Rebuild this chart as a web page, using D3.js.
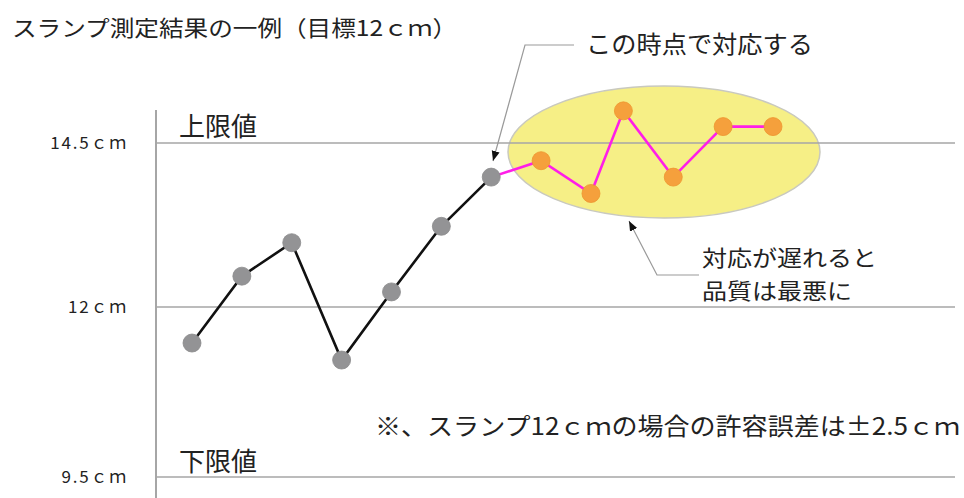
<!DOCTYPE html>
<html>
<head>
<meta charset="utf-8">
<script src="https://cdn.jsdelivr.net/npm/d3@7"></script>
<style>
  body { margin: 0; background: #fff; }
  svg { display: block; }
  text { font-family: "Noto Sans CJK JP", "Noto Sans", sans-serif; fill: #222; }
</style>
</head>
<body>
<script>
var graySample = [1, 2, 3, 4, 5, 6, 7];
var grayValue = [11.47, 12.47, 12.98, 11.22, 12.23, 13.23, 13.98];
var orangeSample = [8, 9, 9.65, 10.65, 11.65, 12.65];
var orangeValue = [14.23, 13.73, 14.99, 13.98, 14.75, 14.75];

var tickValues = [9.5, 12, 14.5];
var tickLabels = ["9.5ｃｍ", "12ｃｍ", "14.5ｃｍ"];
var limitLabels = ["下限値", "上限値"];

var width = 964;
var height = 498;

var svg = d3.select("body")
    .append("svg")
    .attr("width", width)
    .attr("height", height);

var defs = svg.append("defs");
defs.append("marker")
    .attr("id", "arrow")
    .attr("viewBox", "0 0 10 10")
    .attr("refX", 10)
    .attr("refY", 5)
    .attr("markerWidth", 10)
    .attr("markerHeight", 10)
    .attr("markerUnits", "userSpaceOnUse")
    .attr("orient", "auto")
        .append("path")
        .attr("d", "M0,1 L10,5 L0,9 Z")
        .attr("fill", "#111");

var xScale = d3.scaleLinear()
    .domain([1, 12.65])
    .range([192, 773]);

// the reference spacing is a bit uneven, so piecewise
var yScale = d3.scaleLinear()
    .domain([9.5, 12, 14.5])
    .range([477, 307, 143]);

var axisX = 156;
var gridRight = 955;

// title
svg.append("text")
    .attr("x", 12)
    .attr("y", 36)
    .attr("font-size", 22)
    .attr("textLength", 445)
    .attr("lengthAdjust", "spacingAndGlyphs")
    .text("スランプ測定結果の一例（目標12ｃｍ）");

// yellow ellipse behind the late points
svg.append("ellipse")
    .attr("cx", 664)
    .attr("cy", 152)
    .attr("rx", 156)
    .attr("ry", 66)
    .attr("fill", "#f6ef86")
    .attr("stroke", "#c9c9bf")
    .attr("stroke-width", 1.5);

// grid lines at the limits and target
svg.append("g")
    .selectAll("line")
    .data(tickValues)
    .enter()
    .append("line")
    .attr("x1", axisX)
    .attr("x2", gridRight)
    .attr("y1", function(d){ return yScale(d); })
    .attr("y2", function(d){ return yScale(d); })
    .attr("stroke", "#a6a6a6")
    .attr("stroke-width", 1.6);

// vertical axis line
svg.append("line")
    .attr("x1", axisX)
    .attr("x2", axisX)
    .attr("y1", 110)
    .attr("y2", height)
    .attr("stroke", "#a6a6a6")
    .attr("stroke-width", 2);

var yAxis = d3.axisLeft(yScale)
    .tickValues(tickValues)
    .tickSize(0)
    .tickPadding(28)
    .tickFormat(function(d, i){ return tickLabels[i]; });

var axisG = svg.append("g")
    .attr("transform", "translate(" + axisX + ",0)")
    .call(yAxis);
axisG.select(".domain").remove();
axisG.selectAll("text")
    .attr("font-family", "\"Noto Sans CJK JP\", sans-serif")
    .attr("font-size", 17)
    .attr("letter-spacing", "1.8px")
    .attr("fill", "#222");

// limit labels
svg.append("text")
    .attr("x", 179)
    .attr("y", 136)
    .attr("font-size", 26)
    .text(limitLabels[1]);
svg.append("text")
    .attr("x", 179)
    .attr("y", 471)
    .attr("font-size", 26)
    .text(limitLabels[0]);

var line = d3.line()
    .x(function(d){ return xScale(d[0]); })
    .y(function(d){ return yScale(d[1]); });

var grayPts = d3.zip(graySample, grayValue);
var orangePts = d3.zip(orangeSample, orangeValue);

svg.append("path")
    .datum(grayPts)
    .attr("d", line)
    .attr("fill", "none")
    .attr("stroke", "#111")
    .attr("stroke-width", 2.6);

svg.append("path")
    .datum([grayPts[grayPts.length - 1]].concat(orangePts))
    .attr("d", line)
    .attr("fill", "none")
    .attr("stroke", "#ff1ee8")
    .attr("stroke-width", 2.6);

svg.append("g")
    .selectAll("circle")
    .data(grayPts)
    .enter()
    .append("circle")
    .attr("cx", function(d){ return xScale(d[0]); })
    .attr("cy", function(d){ return yScale(d[1]); })
    .attr("r", 9)
    .attr("fill", "#939395")
    .attr("stroke", "#8a8a8c")
    .attr("stroke-width", 0.8);

svg.append("g")
    .selectAll("circle")
    .data(orangePts)
    .enter()
    .append("circle")
    .attr("cx", function(d){ return xScale(d[0]); })
    .attr("cy", function(d){ return yScale(d[1]); })
    .attr("r", 9)
    .attr("fill", "#f5a03c")
    .attr("stroke", "#ee942e")
    .attr("stroke-width", 0.8);

// callout: この時点で対応する
svg.append("polyline")
    .attr("points", "574,45 525,45 493,161")
    .attr("fill", "none")
    .attr("stroke", "#9a9a9a")
    .attr("stroke-width", 1.2)
    .attr("marker-end", "url(#arrow)");
svg.append("text")
    .attr("x", 586)
    .attr("y", 53)
    .attr("font-size", 24)
    .attr("textLength", 227)
    .attr("lengthAdjust", "spacingAndGlyphs")
    .text("この時点で対応する");

// callout: 対応が遅れると品質は最悪に
svg.append("polyline")
    .attr("points", "699,275 657,275 629,221")
    .attr("fill", "none")
    .attr("stroke", "#9a9a9a")
    .attr("stroke-width", 1.2)
    .attr("marker-end", "url(#arrow)");
svg.append("text")
    .attr("x", 702)
    .attr("y", 266)
    .attr("font-size", 22)
    .attr("textLength", 175)
    .attr("lengthAdjust", "spacingAndGlyphs")
    .text("対応が遅れると");
svg.append("text")
    .attr("x", 702)
    .attr("y", 299)
    .attr("font-size", 22)
    .attr("textLength", 150)
    .attr("lengthAdjust", "spacingAndGlyphs")
    .text("品質は最悪に");

// note
svg.append("text")
    .attr("x", 375)
    .attr("y", 435)
    .attr("font-size", 24)
    .attr("textLength", 585)
    .attr("lengthAdjust", "spacingAndGlyphs")
    .text("※、スランプ12ｃｍの場合の許容誤差は±2.5ｃｍ");
</script>
</body>
</html>
